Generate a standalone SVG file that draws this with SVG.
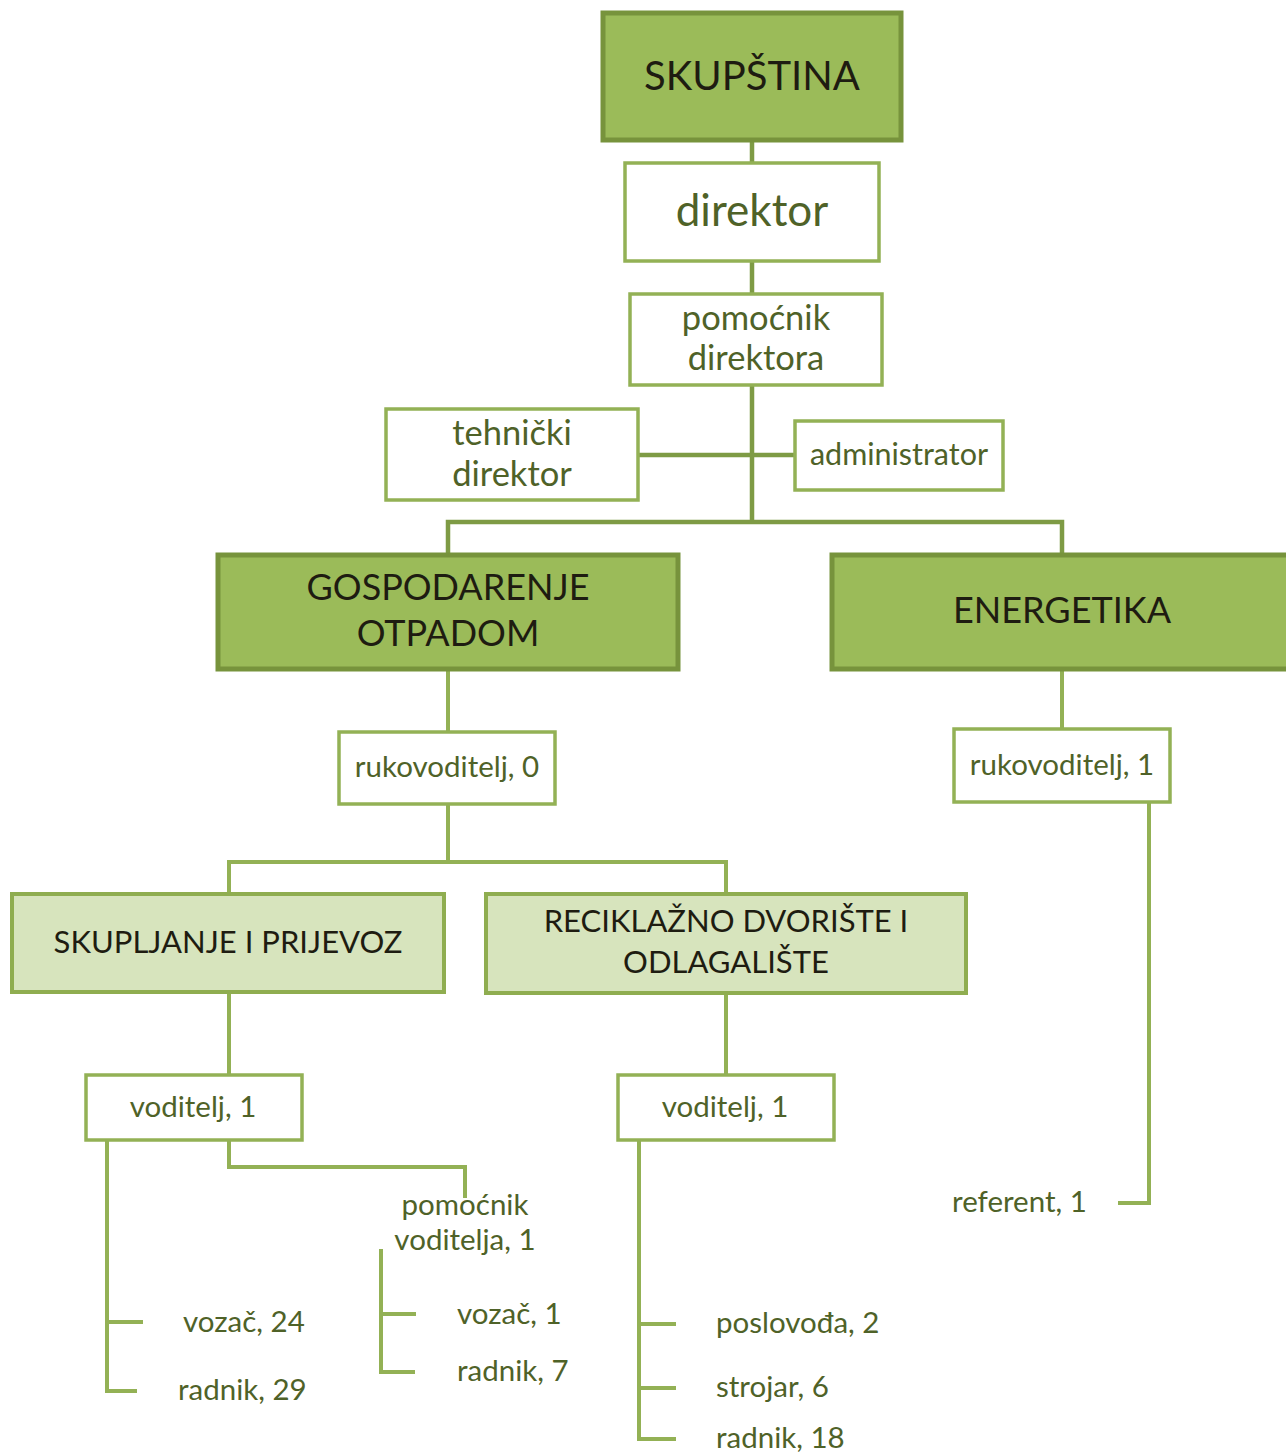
<svg xmlns="http://www.w3.org/2000/svg" width="1286" height="1453" viewBox="0 0 1286 1453">
<style>
.dark{fill:#9BBB59;stroke:#77933C;stroke-width:5}
.light{fill:#D7E4BD;stroke:#8FAD50;stroke-width:4}
.white{fill:#FFFFFF;stroke:#93B155;stroke-width:3.5}
.c1{fill:none;stroke:#7E9B45;stroke-width:4.5}
.c2{fill:none;stroke:#93B155;stroke-width:4}
text{font-family:Lato,"Open Sans","Liberation Sans",sans-serif;text-anchor:middle}
.tk{fill:#1E1C11}
.tg{fill:#4F6228}
.ts{text-anchor:start}
.s{font-size:29.5px}
.m{font-size:34.5px}
</style>
<g id="connectors">
<path class="c1" d="M752 140V163M752 261V294M752 385V522M638 455H795M448 555V522H1062V555"/>
<path class="c2" d="M448 669V732M1062 669V729M1149 802V1203H1118"/>
<path class="c2" d="M448 804V862M229 894V862H726V894"/>
<path class="c2" d="M229 992V1075M726 993V1075"/>
<path class="c2" d="M107 1140V1391H137M107 1322H143"/>
<path class="c2" d="M229 1140V1167H465V1198"/>
<path class="c2" d="M381 1249V1372H415M381 1314H416"/>
<path class="c2" d="M639 1140V1439H676M639 1324H676M639 1388H676"/>
</g>
<g id="skupstina"><rect class="dark" x="603" y="13" width="298" height="127"/><text class="tk" x="752" y="90" font-size="40">SKUPŠTINA</text></g>
<g id="direktor"><rect class="white" x="625" y="163" width="254" height="98"/><text class="tg" x="752" y="226" font-size="44">direktor</text></g>
<g id="pomocnik-direktora"><rect class="white" x="630" y="294" width="252" height="91"/><text class="tg m" x="756" y="330">pomoćnik</text><text class="tg m" x="756" y="370">direktora</text></g>
<g id="tehnicki-direktor"><rect class="white" x="386" y="409" width="252" height="91"/><text class="tg m" x="512" y="445">tehnički</text><text class="tg m" x="512" y="486">direktor</text></g>
<g id="administrator"><rect class="white" x="795" y="421" width="208" height="69"/><text class="tg" x="899" y="465" font-size="30.5">administrator</text></g>
<g id="gospodarenje"><rect class="dark" x="218" y="555" width="460" height="114"/><text class="tk" x="448" y="600" font-size="36">GOSPODARENJE</text><text class="tk" x="448" y="646" font-size="36">OTPADOM</text></g>
<g id="energetika"><rect class="dark" x="832" y="555" width="460" height="114"/><text class="tk" x="1062" y="623" font-size="36">ENERGETIKA</text></g>
<g id="rukovoditelj-0"><rect class="white" x="339" y="732" width="216" height="72"/><text class="tg s" x="447" y="777">rukovoditelj, 0</text></g>
<g id="rukovoditelj-1"><rect class="white" x="954" y="729" width="216" height="73"/><text class="tg s" x="1062" y="775">rukovoditelj, 1</text></g>
<g id="referent"><text class="tg ts s" x="952" y="1212">referent, 1</text></g>
<g id="skupljanje"><rect class="light" x="12" y="894" width="432" height="98"/><text class="tk" x="228" y="953" font-size="31">SKUPLJANJE I PRIJEVOZ</text></g>
<g id="reciklazno"><rect class="light" x="486" y="894" width="480" height="99"/><text class="tk" x="726" y="932" font-size="31">RECIKLAŽNO DVORIŠTE I</text><text class="tk" x="726" y="973" font-size="31">ODLAGALIŠTE</text></g>
<g id="voditelj-left"><rect class="white" x="86" y="1075" width="216" height="65"/><text class="tg s" x="193" y="1117">voditelj, 1</text></g>
<g id="voditelj-right"><rect class="white" x="618" y="1075" width="216" height="65"/><text class="tg s" x="725" y="1117">voditelj, 1</text></g>
<g id="pomocnik-voditelja"><text class="tg s" x="465" y="1215">pomoćnik</text><text class="tg s" x="465" y="1250">voditelja, 1</text></g>
<g id="vozac-24"><text class="tg ts s" x="183" y="1332">vozač, 24</text></g>
<g id="radnik-29"><text class="tg ts s" x="178" y="1400">radnik, 29</text></g>
<g id="vozac-1"><text class="tg ts s" x="457" y="1324">vozač, 1</text></g>
<g id="radnik-7"><text class="tg ts s" x="457" y="1381">radnik, 7</text></g>
<g id="poslovodja"><text class="tg ts s" x="716" y="1333">poslovođa, 2</text></g>
<g id="strojar"><text class="tg ts s" x="716" y="1397">strojar, 6</text></g>
<g id="radnik-18"><text class="tg ts s" x="716" y="1448">radnik, 18</text></g>
</svg>
